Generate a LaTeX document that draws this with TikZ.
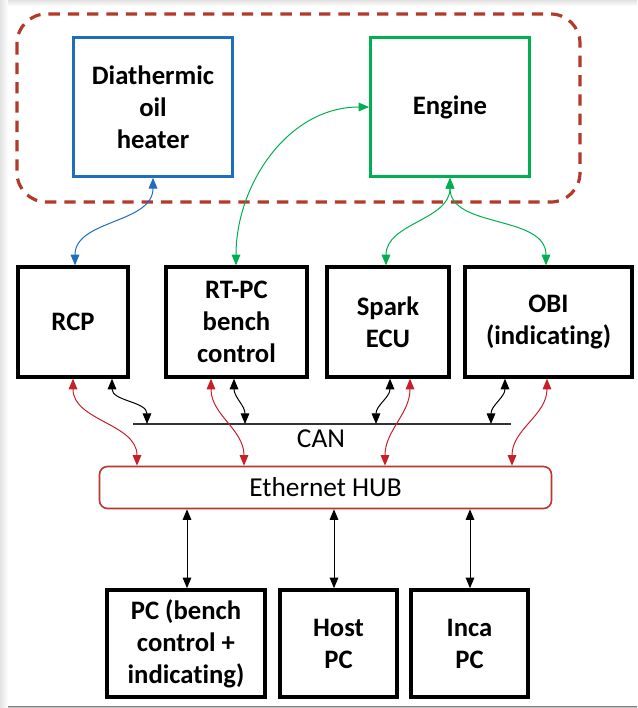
\documentclass[tikz,border=0pt]{standalone}
\usepackage{fontspec}
\setmainfont[Ligatures=NoCommon]{Carlito}
\usetikzlibrary{arrows.meta}

\definecolor{frameRed}{RGB}{178,58,42}
\definecolor{heatBlue}{RGB}{30,110,190}
\definecolor{engGreen}{RGB}{0,176,80}
\definecolor{netRed}{RGB}{200,32,40}
\definecolor{hubRed}{RGB}{185,55,45}
\definecolor{shade}{RGB}{226,226,226}

\tikzset{
  unitbox/.style={draw, line width=3pt, inner sep=0pt, align=center,
    font=\fontsize{20}{24}\selectfont\bfseries},
  link/.style={line width=0.75pt, {Triangle[length=8pt,width=6.5pt]}-{Triangle[length=8pt,width=6.5pt]}},
  blink/.style={link, black},
  rlink/.style={link, netRed},
  glink/.style={link, engGreen},
  hlink/.style={link, heatBlue},
}

\begin{document}
\begin{tikzpicture}[x=0.75pt, y=-0.75pt]
  % page with a soft shadowed edge
  \fill[white] (0,0) rectangle (637,708);
  \shade[left color=shade, right color=white] (0,0) rectangle (8,708);
  \shade[top color=shade, bottom color=white] (8,0) rectangle (637,6);
  \fill[shade] (8,706) rectangle (637,708);
  \useasboundingbox (0,0) rectangle (637,708);

  % plant enclosure
  \draw[frameRed, line width=2.4pt, dash pattern=on 8.5pt off 6pt, rounded corners=22pt]
    (17,14) rectangle (580,202);

  % plant units
  \node[unitbox, draw=heatBlue, line width=2.25pt, minimum width=119pt, minimum height=104pt]
    (heater) at (153,107) {Diathermic\\oil\\heater};
  \node[unitbox, draw=engGreen, line width=2.25pt, minimum width=119pt, minimum height=104pt]
    (engine) at (450,107) {Engine};

  % control units
  \node[unitbox, minimum width=82.5pt, minimum height=82pt] (rcp) at (73,322) {RCP};
  \node[unitbox, minimum width=105.75pt, minimum height=82pt] (rtpc) at (236.5,322) {RT-PC\\bench\\control};
  \node[unitbox, minimum width=91.5pt, minimum height=82pt] (spark) at (388,322) {Spark\\ECU};
  \node[unitbox, minimum width=125.25pt, minimum height=82pt] (obi) at (548.5,322) {OBI\\(indicating)};

  % CAN bus
  \coordinate (canL) at (133,424);
  \coordinate (canR) at (511,424);
  \draw[black!80, line width=0.9pt] (canL) -- (canR);
  \node[font=\fontsize{20.5}{24}\selectfont] (canlabel) at (321,439) {CAN};

  % Ethernet hub
  \node[draw=hubRed, line width=1.2pt, rounded corners=6pt, minimum width=339pt,
    minimum height=31.5pt, inner sep=0pt, font=\fontsize{20.5}{24}\selectfont]
    (hub) at (325.5,487.5) {Ethernet HUB};

  % workstations
  \node[unitbox, minimum width=118.5pt, minimum height=80pt] (pc) at (186,643.5) {PC (bench\\control +\\indicating)};
  \node[unitbox, minimum width=87.75pt, minimum height=80pt] (host) at (338.5,643.5) {Host\\PC};
  \node[unitbox, minimum width=87.75pt, minimum height=80pt] (inca) at (469.5,643.5) {Inca\\PC};

  % plant links
  \draw[hlink] (heater.south) to[out=-90,in=90] (rcp.north -| 75,0);
  \draw[glink] (rtpc.north -| 236,0) to[out=90,in=180] (engine.west);
  \draw[glink] (engine.south) to[out=-90,in=90] (spark.north -| 386,0);
  \draw[glink] (engine.south) to[out=-90,in=90] (obi.north -| 546,0);

  % CAN links
  \draw[blink] (rcp.south -| 112,0) to[out=-90,in=90] (canL -| 147,0);
  \draw[blink] (rtpc.south -| 234,0) to[out=-90,in=90] (canL -| 245,0);
  \draw[blink] (spark.south -| 390,0) to[out=-90,in=90] (canL -| 376,0);
  \draw[blink] (obi.south -| 505,0) to[out=-90,in=90] (canL -| 491,0);

  % Ethernet links to the units
  \draw[rlink] (rcp.south -| 73,0) to[out=-90,in=90] (hub.north -| 137,0);
  \draw[rlink] (rtpc.south -| 211,0) to[out=-90,in=90] (hub.north -| 244,0);
  \draw[rlink] (spark.south -| 410,0) to[out=-90,in=90] (hub.north -| 385,0);
  \draw[rlink] (obi.south -| 547,0) to[out=-90,in=90] (hub.north -| 512,0);

  % Ethernet links to the workstations
  \draw[blink] (hub.south -| 187,0) -- (pc.north -| 187,0);
  \draw[blink] (hub.south -| 334,0) -- (host.north -| 334,0);
  \draw[blink] (hub.south -| 470,0) -- (inca.north -| 470,0);
\end{tikzpicture}
\end{document}
